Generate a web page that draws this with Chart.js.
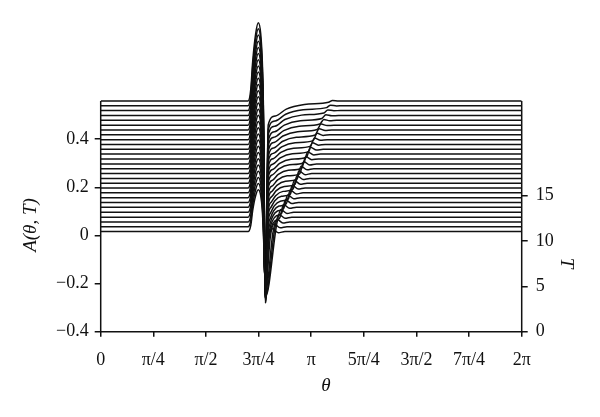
<!DOCTYPE html>
<html>
<head>
<meta charset="utf-8">
<script src="https://cdn.jsdelivr.net/npm/chart.js@4.4.1/dist/chart.umd.min.js"></script>
<style>
  html, body { margin: 0; padding: 0; background: #fff; }
  #wrap { width: 600px; height: 417px; }
</style>
</head>
<body>
<div id="wrap"><canvas id="c" width="600" height="417"></canvas></div>
<script>
// tick labels
const xTickVals = [0, Math.PI / 4, Math.PI / 2, 3 * Math.PI / 4, Math.PI, 5 * Math.PI / 4, 3 * Math.PI / 2, 7 * Math.PI / 4, 2 * Math.PI];
const xTickLabels = ['0', 'π/4', 'π/2', '3π/4', 'π', '5π/4', '3π/2', '7π/4', '2π'];
const yTickVals = [-0.4, -0.2, 0, 0.2, 0.4];
const tTickVals = [0, 5, 10, 15];

// one curve per T, bottom to top: flat level, spike top, dip bottom
const curveBase = [0.016, 0.036, 0.056, 0.076, 0.096, 0.117, 0.137, 0.157, 0.177, 0.197,
  0.217, 0.237, 0.257, 0.277, 0.297, 0.318, 0.338, 0.358, 0.378, 0.398,
  0.418, 0.438, 0.458, 0.478, 0.498, 0.519, 0.539, 0.559];
const curvePeak = [0.19, 0.216, 0.241, 0.267, 0.293, 0.319, 0.344, 0.37, 0.396, 0.421,
  0.447, 0.473, 0.499, 0.524, 0.55, 0.576, 0.601, 0.627, 0.653, 0.679,
  0.704, 0.73, 0.756, 0.781, 0.807, 0.833, 0.859, 0.884];
const curveDip = [-0.22, -0.23, -0.24, -0.25, -0.255, -0.26, -0.265, -0.27, -0.27, -0.275,
  -0.275, -0.28, -0.28, -0.28, -0.278, -0.275, -0.272, -0.27, -0.268, -0.265,
  -0.262, -0.26, -0.258, -0.255, -0.252, -0.25, -0.248, -0.245];
// theta of the last small step up to the flat level
const stepTheta = [2.53, 2.56, 2.60, 2.63, 2.66, 2.70, 2.73, 2.76, 2.80, 2.83,
  2.86, 2.90, 2.93, 2.96, 3.00, 3.03, 3.06, 3.10, 3.13, 3.16,
  3.20, 3.23, 3.26, 3.30, 3.33, 3.36, 3.40, 3.43];
const stepSize = [0.045, 0.045, 0.045, 0.045, 0.045, 0.045, 0.045, 0.045, 0.045, 0.045,
  0.045, 0.045, 0.045, 0.043, 0.041, 0.039, 0.036, 0.033, 0.03, 0.027,
  0.024, 0.021, 0.018, 0.015, 0.012, 0.01, 0.008, 0.006];
// how far below its level a curve is just after the dip (null = straight rise)
const arcDrop = [null, null, null, null, null, 0.16, 0.155, 0.15, 0.146, 0.142,
  0.138, 0.135, 0.132, 0.129, 0.126, 0.123, 0.12, 0.118, 0.116, 0.114,
  0.112, 0.11, 0.108, 0.106, 0.104, 0.102, 0.1, 0.1];

// spike profile, fraction of (peak - base)
const spikeTheta = [2.10, 2.20, 2.24, 2.268, 2.313, 2.352, 2.388, 2.412, 2.427];
const spikeFrac = [0, 0, 0.15, 0.5, 0.86, 1, 0.86, 0.5, 0];
const dipTheta = 2.46;
const arcStart = 2.50;
const arcPos = [0.12, 0.3, 0.6];
const arcFrac = [0.6, 0.3, 0.1];

const datasets = curveBase.map((b, i) => {
  const p = curvePeak[i];
  const s = stepSize[i];
  const w = stepTheta[i];
  const pts = [{ x: 0, y: b }];
  spikeTheta.forEach((t, k) => pts.push({ x: t, y: b + spikeFrac[k] * (p - b) }));
  pts.push({ x: dipTheta, y: curveDip[i] });
  if (arcDrop[i] !== null) {
    const g = arcDrop[i] - s;
    const span = (w - 0.03) - arcStart;
    pts.push({ x: arcStart, y: b - s - g });
    arcPos.forEach((f, k) => pts.push({ x: arcStart + f * span, y: b - s - arcFrac[k] * g }));
  }
  pts.push({ x: w - 0.03, y: b - s });
  pts.push({ x: w + 0.03, y: b + s * 0.25 });
  pts.push({ x: w + 0.12, y: b - s * 0.1 });
  pts.push({ x: w + 0.22, y: b });
  pts.push({ x: 2 * Math.PI, y: b });
  return {
    data: pts,
    borderColor: '#111',
    borderWidth: 1.5,
    pointRadius: 0,
    fill: false,
    cubicInterpolationMode: 'monotone',
    yAxisID: 'y',
  };
});

const serif = '"Liberation Serif", "DejaVu Serif", serif';
const tickFont = { family: serif, size: 18 };

// axis lines and titles drawn by hand, the left/right lines stop at the top curve
const axesPlugin = {
  id: 'axes',
  afterDraw(chart) {
    const { ctx, chartArea, scales } = chart;
    const yBot = scales.y.getPixelForValue(-0.4);
    const yTop = scales.y.getPixelForValue(curveBase[curveBase.length - 1]);
    ctx.save();
    ctx.strokeStyle = '#111';
    ctx.lineWidth = 1.5;
    ctx.beginPath();
    ctx.moveTo(chartArea.left, yTop);
    ctx.lineTo(chartArea.left, yBot);
    ctx.lineTo(chartArea.right, yBot);
    ctx.lineTo(chartArea.right, yTop);
    ctx.stroke();

    ctx.fillStyle = '#111';
    ctx.font = 'italic 19px ' + serif;
    ctx.textAlign = 'center';
    ctx.textBaseline = 'middle';
    ctx.fillText('θ', 326, 386);

    ctx.save();
    ctx.translate(31, 225);
    ctx.rotate(-Math.PI / 2);
    ctx.fillText('A(θ, T)', 0, 0);
    ctx.restore();

    ctx.save();
    ctx.translate(566, 263);
    ctx.rotate(Math.PI / 2);
    ctx.fillText('T', 0, 0);
    ctx.restore();
    ctx.restore();
  }
};

new Chart(document.getElementById('c'), {
  type: 'line',
  data: { datasets },
  plugins: [axesPlugin],
  options: {
    responsive: false,
    animation: false,
    layout: { padding: { top: 16.45, left: 0, right: 0, bottom: 0 } },
    plugins: { legend: { display: false }, tooltip: { enabled: false } },
    scales: {
      x: {
        type: 'linear',
        min: 0,
        max: 2 * Math.PI,
        afterFit: s => { s.height = 85.3; },
        afterBuildTicks: s => { s.ticks = xTickVals.map(v => ({ value: v })); },
        ticks: {
          color: '#111', font: tickFont, padding: 13, maxRotation: 0, autoSkip: false,
          callback: (v, i) => xTickLabels[i],
        },
        grid: { drawOnChartArea: false, drawTicks: true, tickLength: 5, color: '#111', lineWidth: 1.5 },
        border: { display: false },
      },
      y: {
        type: 'linear',
        position: 'left',
        min: -0.4,
        max: 0.9,
        afterFit: s => { s.width = 100.7; },
        afterBuildTicks: s => { s.ticks = yTickVals.map(v => ({ value: v })); },
        ticks: {
          color: '#111', font: tickFont, padding: 6,
          callback: v => (v < 0 ? '−' + Math.abs(v) : String(v)),
        },
        grid: { drawOnChartArea: false, drawTicks: true, tickLength: 6, color: '#111', lineWidth: 1.5 },
        border: { display: false },
      },
      t: {
        type: 'linear',
        position: 'right',
        min: 0,
        max: 34.45,
        afterFit: s => { s.width = 78.3; },
        afterBuildTicks: s => { s.ticks = tTickVals.map(v => ({ value: v })); },
        ticks: { color: '#111', font: tickFont, padding: 8 },
        grid: { drawOnChartArea: false, drawTicks: true, tickLength: 6, color: '#111', lineWidth: 1.5 },
        border: { display: false },
      },
    },
  },
});
</script>
</body>
</html>
